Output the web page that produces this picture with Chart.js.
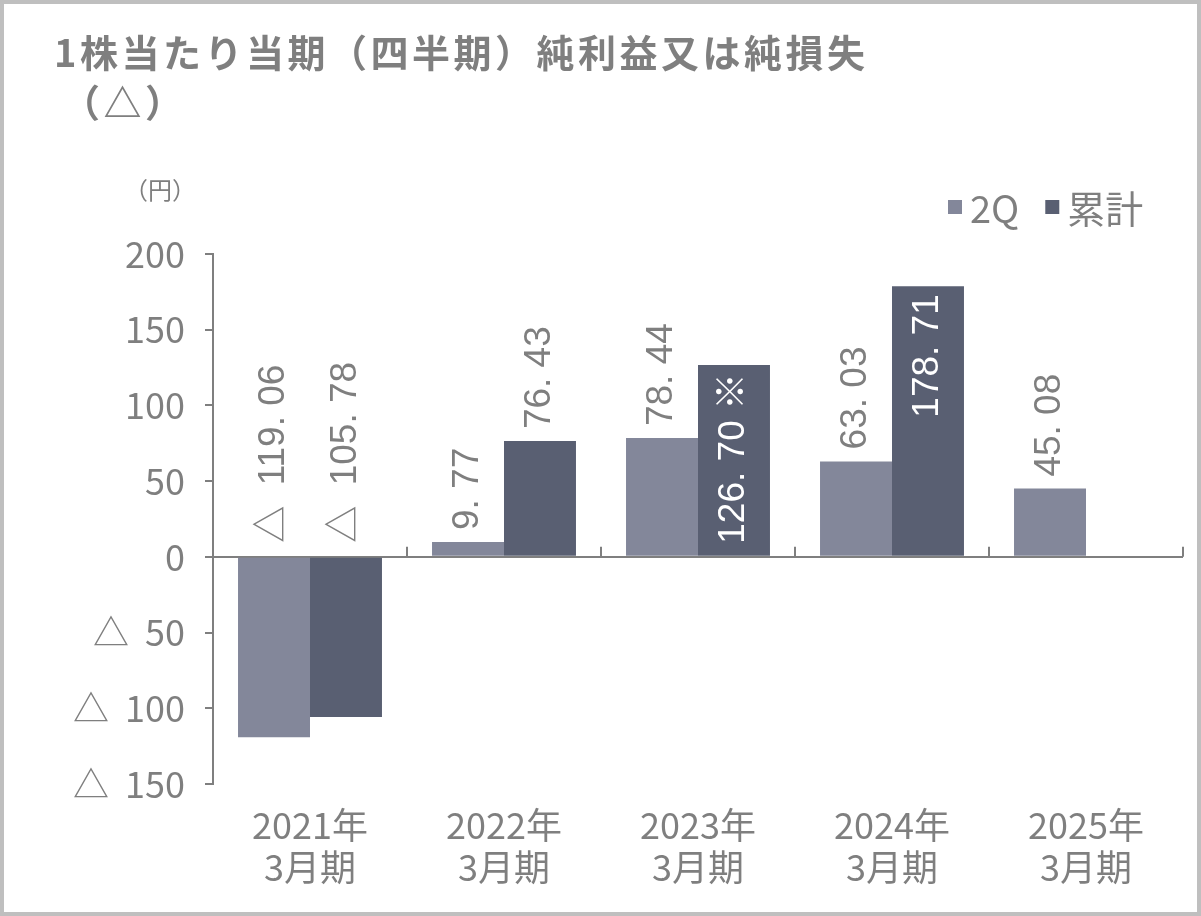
<!DOCTYPE html>
<html>
<head>
<meta charset="utf-8">
<script src="https://cdn.jsdelivr.net/npm/chart.js@4.4.0/dist/chart.umd.min.js"></script>
<style>
  body { margin: 0; background: #fff; }
  #wrap { width: 1193px; height: 908px; border: 4px solid #bfbfbf; position: relative; }
</style>
</head>
<body>
<div id="wrap"><canvas id="epsChart"></canvas></div>
<script>
const categories = [['2021年', '3月期'], ['2022年', '3月期'], ['2023年', '3月期'], ['2024年', '3月期'], ['2025年', '3月期']];
const q2Values = [-119.06, 9.77, 78.44, 63.03, 45.08];
const cumulativeValues = [-105.78, 76.43, 126.70, 178.71, null];
const cumulativeNotes = ['', '', '※', '', ''];
const seriesNames = ['2Q', '累計'];
const yTicks = [-150, -100, -50, 0, 50, 100, 150, 200];

const titleLines = ['1株当たり当期（四半期）純利益又は純損失', '（△）'];
const unitLabel = '（円）';

const GRAY = '#7f7f7f';
const NARROW = '"Liberation Sans Narrow", "Noto Sans CJK JP", sans-serif';
const JP = '"Noto Sans CJK JP", sans-serif';

function fmt(v) {
  const s = Math.abs(v).toFixed(2).replace('.', '. ');
  return v < 0 ? '△  ' + s : s;
}

// draws title, unit, legend, the zero-axis ticks and the value labels
const decor = {
  id: 'decor',
  afterDatasetsDraw(chart) {
    const ctx = chart.ctx;
    const x = chart.scales.x, y = chart.scales.y;
    const area = chart.chartArea;
    ctx.save();

    // category separators on the zero line
    const zero = y.getPixelForValue(0);
    const step = (area.right - area.left) / categories.length;
    ctx.strokeStyle = GRAY;
    ctx.lineWidth = 2;
    for (let i = 0; i < categories.length; i++) {
      const bx = Math.round(x.getPixelForValue(i) + step / 2);
      ctx.beginPath();
      ctx.moveTo(bx, zero);
      ctx.lineTo(bx, zero - 10);
      ctx.stroke();
    }

    // value labels
    ctx.font = '37px "Liberation Sans", "Noto Sans CJK JP", sans-serif';
    ctx.textBaseline = 'middle';
    chart.data.datasets.forEach((ds, di) => {
      const meta = chart.getDatasetMeta(di);
      meta.data.forEach((bar, i) => {
        const v = ds.data[i];
        if (v === null || v === undefined) return;
        let text = fmt(v);
        if (di === 1 && cumulativeNotes[i]) text += ' ' + cumulativeNotes[i];
        ctx.save();
        const inside = di === 1 && v > 100;
        let ay, align;
        if (inside) {
          ay = bar.y + 8; align = 'right'; ctx.fillStyle = '#ffffff';
        } else if (v < 0) {
          ay = zero - 14; align = 'left'; ctx.fillStyle = GRAY;
        } else {
          ay = bar.y - 12; align = 'left'; ctx.fillStyle = GRAY;
        }
        ctx.translate(bar.x, ay);
        ctx.rotate(-Math.PI / 2);
        ctx.textAlign = align;
        ctx.fillText(text, 0, 0);
        ctx.restore();
      });
    });

    // title
    ctx.fillStyle = GRAY;
    ctx.textAlign = 'left';
    ctx.textBaseline = 'middle';
    ctx.font = 'bold 38px ' + JP;
    ctx.letterSpacing = '3.5px';
    ctx.fillText(titleLines[0], 50, 49);
    ctx.fillText(titleLines[1], 58, 99);
    ctx.letterSpacing = '0px';

    // unit
    ctx.font = '24px ' + JP;
    ctx.fillText(unitLabel, 120, 186);

    // legend
    ctx.font = '38px ' + NARROW;
    let lx = 944;
    chart.data.datasets.forEach((ds, di) => {
      ctx.fillStyle = ds.backgroundColor;
      ctx.fillRect(lx, 196, 14, 14);
      ctx.fillStyle = GRAY;
      ctx.fillText(ds.label, lx + 22, 205);
      lx += 22 + ctx.measureText(ds.label).width + 26;
    });

    ctx.restore();
  }
};

new Chart(document.getElementById('epsChart'), {
  type: 'bar',
  data: {
    labels: categories,
    datasets: [
      { label: seriesNames[0], data: q2Values, backgroundColor: '#83879a' },
      { label: seriesNames[1], data: cumulativeValues, backgroundColor: '#595f72' }
    ]
  },
  options: {
    responsive: true,
    maintainAspectRatio: false,
    animation: false,
    events: [],
    layout: { padding: { top: 250, right: 14, bottom: 0, left: 0 } },
    datasets: { bar: { categoryPercentage: 0.742, barPercentage: 1.0 } },
    plugins: { legend: { display: false }, title: { display: false }, tooltip: { enabled: false } },
    scales: {
      x: {
        grid: { display: false },
        border: { display: false },
        ticks: {
          color: GRAY,
          font: { family: NARROW, size: 36, lineHeight: 1.17 },
          padding: 12,
          maxRotation: 0
        },
        afterFit(scale) { scale.height = 128; }
      },
      y: {
        min: -150,
        max: 200,
        afterBuildTicks(scale) { scale.ticks = yTicks.map(v => ({ value: v })); },
        border: { display: true, color: GRAY, width: 2 },
        grid: {
          drawOnChartArea: true,
          color: c => (c.tick && c.tick.value === 0 ? GRAY : 'rgba(0,0,0,0)'),
          lineWidth: 2,
          tickColor: GRAY,
          tickLength: 8
        },
        ticks: {
          color: GRAY,
          font: { family: NARROW, size: 36 },
          padding: 20,
          callback: v => (v < 0 ? '△  ' + (-v) : String(v))
        },
        afterFit(scale) { scale.width = 209; }
      }
    }
  },
  plugins: [decor]
});
</script>
</body>
</html>
